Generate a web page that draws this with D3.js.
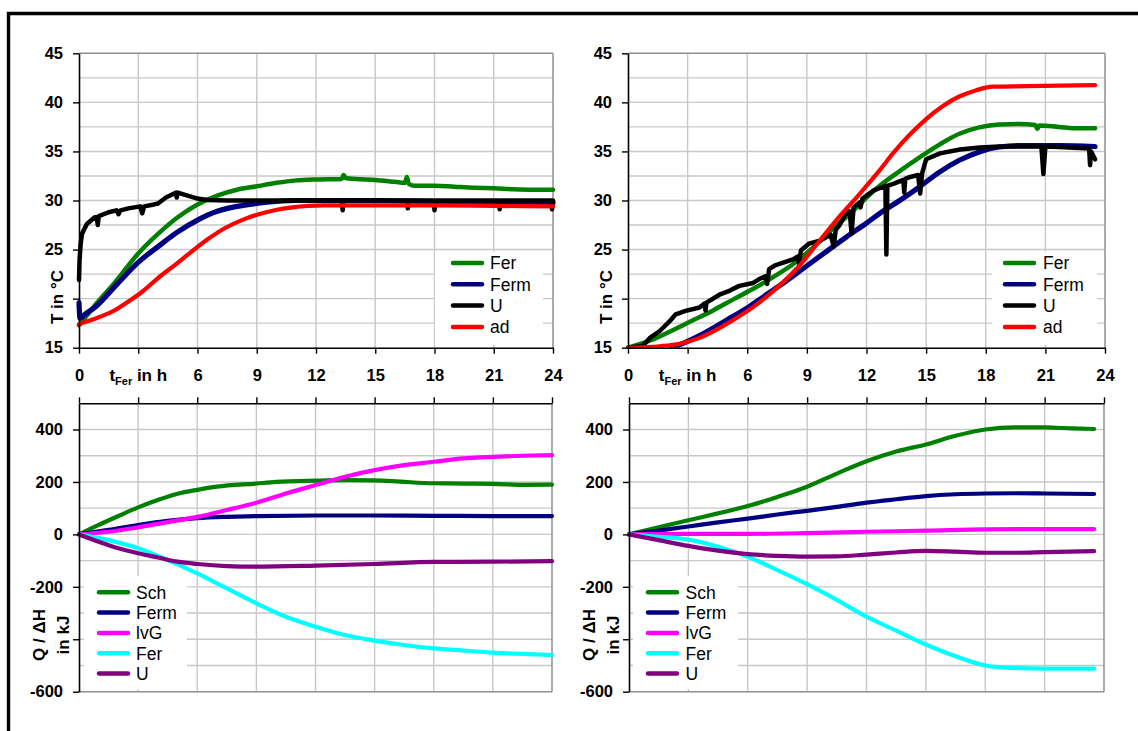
<!DOCTYPE html>
<html>
<head>
<meta charset="utf-8">
<script src="https://cdn.jsdelivr.net/npm/d3@7/dist/d3.min.js"></script>
<style>
html,body{margin:0;padding:0;background:#fff;}
svg{display:block;font-family:"Liberation Sans",Arial,Helvetica,sans-serif;}
</style>
</head>
<body>
<svg id="chart" width="1138" height="731"></svg>
<script>
// ---------- tick / category data ----------
const hourTicks = [0,3,6,9,12,15,18,21,24];
const tempTicks = [15,20,25,30,35,40,45];
const tempGrid = [17.5,20,22.5,25,27.5,30,32.5,35,37.5,40,42.5];
const energyTicks = [-600,-400,-200,0,200,400];
const energyGrid = [-500,-400,-300,-200,-100,0,100,200,300,400];
const tempNames = ["Fer","Ferm","U","ad"];
const tempColors = ["#008000","#000080","#000000","#ff0000"];
const energyNames = ["Sch","Ferm","lvG","Fer","U"];
const energyColors = ["#008000","#000080","#ff00ff","#00ffff","#800080"];

// ---------- top-left temperatures [t in h, T in °C] ----------
const tlFer = [[0,17.3],[0.4,18.3],[0.8,19.3],[1.8,21.6],[3,24.6],[4,26.6],[5,28.3],[6,29.6],[7,30.5],[8,31.1],[9,31.45],[10,31.8],[11,32.05],[12,32.15],[13.3,32.2],[13.4,32.6],[13.5,32.3],[14,32.2],[15,32.1],[16,31.9],[16.5,31.8],[16.6,32.4],[16.7,31.7],[17,31.5],[18,31.5],[19,31.4],[20,31.3],[21,31.25],[22,31.15],[23,31.1],[24,31.1]];
const tlFerm = [[0,19.6],[0.05,18.0],[0.3,18.4],[0.8,19.1],[1.8,21.2],[3,23.7],[4,25.3],[5,26.8],[6,28.0],[7,28.9],[8,29.4],[9,29.7],[10,29.9],[11,30.0],[12,30.0],[15,30.0],[18,29.9],[21,29.8],[24,29.8]];
const tlU = [[0,21.9],[0.03,24.0],[0.08,25.5],[0.15,26.6],[0.4,27.6],[0.8,28.3],[0.9,28.3],[0.95,27.5],[1.0,28.4],[1.5,28.8],[1.9,29.0],[2.0,28.6],[2.1,29.0],[2.5,29.2],[3.1,29.4],[3.2,28.7],[3.3,29.4],[3.8,29.6],[4.0,29.7],[4.4,30.3],[4.9,30.8],[4.95,30.3],[5.0,30.8],[5.5,30.5],[6.0,30.2],[6.5,30.05],[7.5,30.0],[13.3,30.0],[13.35,29.0],[13.4,30.0],[16.6,30.0],[16.65,29.2],[16.7,30.0],[17.95,30.0],[18.0,29.0],[18.05,30.0],[21.25,30.0],[21.3,29.1],[21.35,30.0],[23.9,30.0],[23.95,29.1],[24,30.0]];
const tlAd = [[0,17.4],[1,18.1],[1.8,18.8],[2.5,19.7],[3.2,20.7],[4,22.1],[4.9,23.5],[5.7,24.8],[6.55,26.1],[7.4,27.2],[8.25,28.0],[9.1,28.6],[9.9,29.0],[10.8,29.3],[11.6,29.45],[12.4,29.5],[15,29.5],[18,29.5],[21,29.45],[24,29.4]];

// ---------- top-right temperatures ----------
const trFer = [[0,15.0],[0.5,15.3],[1.26,15.85],[2.27,16.8],[3.27,17.8],[4.28,18.8],[5.28,19.9],[6.3,21.0],[7.3,22.2],[8.3,23.5],[9.3,25.2],[10.3,27.1],[11.3,28.9],[12,30.3],[12.67,31.5],[13.67,33.0],[14.67,34.4],[15.67,35.7],[16.67,36.8],[17.67,37.45],[18.67,37.75],[19.67,37.8],[20.5,37.7],[20.6,37.3],[20.7,37.65],[21.67,37.5],[22.67,37.35],[23.5,37.35]];
const trFerm = [[2.2,15.0],[2.94,15.6],[3.94,16.6],[4.95,17.8],[5.96,19.0],[6.96,20.4],[7.97,21.8],[8.97,23.3],[9.98,24.8],[11.0,26.3],[12,27.7],[12.67,28.7],[13.67,30.0],[14.67,31.4],[15.67,32.9],[16.67,34.1],[17.67,34.95],[18.67,35.45],[19.67,35.6],[21.67,35.6],[23.5,35.5]];
const trU = [[0,15.0],[0.75,15.2],[1.1,16.0],[1.6,16.7],[2.1,17.7],[2.4,18.4],[2.9,18.75],[3.6,19.1],[3.85,19.5],[3.9,18.8],[3.95,19.6],[4.6,20.4],[5.1,20.8],[5.6,21.3],[6.3,21.6],[6.6,22.0],[6.95,22.3],[7.0,21.5],[7.1,23.0],[7.4,23.4],[8.3,24.0],[8.55,24.3],[8.6,23.6],[8.7,24.9],[9.1,25.6],[9.65,25.9],[10.2,26.5],[10.35,25.3],[10.45,27.0],[10.65,27.5],[10.9,28.5],[11.15,28.9],[11.25,26.6],[11.35,29.3],[11.65,29.8],[11.7,29.3],[11.8,30.2],[12.34,31.0],[12.84,31.4],[12.95,31.5],[13.0,24.5],[13.05,31.5],[13.35,31.7],[13.85,32.1],[13.9,30.8],[13.95,32.2],[14.2,32.4],[14.6,32.6],[14.7,30.7],[14.8,32.8],[15.0,34.2],[15.7,34.8],[16.7,35.2],[17.7,35.4],[18.7,35.5],[20.8,35.5],[20.9,32.7],[21.0,35.5],[21.7,35.45],[23.2,35.3],[23.25,33.6],[23.3,35.0],[23.5,34.2]];
const trAd = [[0,15.0],[1.6,15.15],[2.6,15.4],[3.6,16.0],[4.6,17.0],[5.6,18.2],[6.6,19.6],[7.6,21.3],[8.6,23.3],[9.6,25.8],[10.7,28.5],[11.67,30.7],[12,31.5],[12.67,33.1],[13.33,34.8],[14.17,36.7],[15,38.3],[15.83,39.6],[16.67,40.6],[17.33,41.1],[18,41.5],[18.33,41.6],[20,41.65],[21.7,41.7],[23.5,41.75]];

// ---------- bottom-left energies [t in h, Q/ΔH in kJ] ----------
const blSch = [[0,0],[1,36],[2,70],[3,103],[4,131],[5,155],[6,170],[7,182],[9,194],[10,200],[12,205],[13.5,207],[15,206],[16.3,201],[18,195],[19.5,194],[21,193],[22.5,189],[24,190]];
const blFerm = [[0,0],[1.5,17],[3,36],[4.5,52],[6,62],[7.5,67],[9,70],[12,72],[15,72],[18,71],[21,70],[24,70]];
const blLvG = [[0,0],[1.5,10],[3,27],[4.5,47],[6,67],[7.5,93],[9,121],[10.5,156],[12,188],[13.5,220],[15,245],[16.5,264],[18,277],[19.5,290],[21,296],[22.5,300],[24,302]];
const blFer = [[0,0],[1.5,-22],[3,-53],[4.5,-98],[6,-149],[7.5,-206],[9,-263],[10.5,-314],[12,-352],[13.5,-384],[15,-405],[16.5,-422],[18,-435],[19.5,-443],[21,-451],[22.5,-456],[24,-460]];
const blU = [[0,0],[1,-28],[2,-53],[3,-72],[4,-88],[5,-104],[6,-113],[7.5,-121],[9,-123],[12,-119],[15,-113],[18,-105],[21,-104],[24,-102]];

// ---------- bottom-right energies ----------
const brSch = [[0,0],[1.5,27],[3,54],[4.5,80],[6,108],[7.5,143],[9,182],[10.5,232],[12,279],[13.5,316],[15,343],[16.5,376],[18,400],[19.5,408],[21,408],[22.4,404],[23.5,402]];
const brFerm = [[0,0],[1.5,15],[3,30],[4.5,46],[6,60],[7.5,76],[9,90],[10.5,105],[12,121],[13.5,134],[15,146],[16.5,153],[18,156],[19.5,157],[21,156],[23.5,154]];
const brLvG = [[0,0],[3,2],[6,2],[9,5],[12,10],[15,14],[18,19],[21,20],[23.5,20]];
const brFer = [[0,0],[1.5,-9],[3,-20],[4.5,-47],[6,-85],[7.5,-136],[9,-190],[10.5,-250],[12,-314],[13.5,-367],[15,-420],[16.5,-465],[18,-500],[19.5,-510],[21,-512],[23.5,-512]];
const brU = [[0,0],[1.5,-22],[3,-44],[4.5,-62],[6,-75],[7.5,-82],[9,-85],[10.5,-84],[12,-77],[13.5,-69],[15,-63],[16.5,-66],[18,-70],[19.5,-70],[21,-68],[23.5,-64]];

// ---------- drawing ----------
const svg = d3.select("#chart");
const GRID = "#c8c8c8", BORDER = "#8f8f8f";

// outer frame
svg.append("path").attr("d","M8.5,731 V13.5 H1138").attr("fill","none").attr("stroke","#000").attr("stroke-width",3.4);

let clipId = 0;
function drawPanel(p){
  const g = svg.append("g");
  const x = d3.scaleLinear().domain([0,24]).range([p.left,p.right]);
  const y = d3.scaleLinear().domain(p.yDomain).range([p.bottom,p.top]);

  // gridlines
  g.append("g").selectAll("line").data(p.yGrid).join("line")
    .attr("x1",p.left).attr("x2",p.right).attr("y1",d=>y(d)).attr("y2",d=>y(d))
    .attr("stroke",GRID).attr("stroke-width",1.4);
  g.append("g").selectAll("line").data(hourTicks.slice(1,-1)).join("line")
    .attr("x1",d=>x(d)).attr("x2",d=>x(d)).attr("y1",p.top).attr("y2",p.bottom)
    .attr("stroke",GRID).attr("stroke-width",1.4);
  // gray border
  const yb = p.kind==="temp" ? y(p.yDomain[1]) : y(p.yDomain[0]);
  g.append("line").attr("x1",p.left).attr("x2",p.right).attr("y1",yb).attr("y2",yb).attr("stroke",BORDER).attr("stroke-width",1.5);
  g.append("line").attr("x1",x(24)).attr("x2",x(24)).attr("y1",p.top).attr("y2",p.bottom).attr("stroke",BORDER).attr("stroke-width",1.5);

  // legend box
  const L = p.legend;
  g.append("rect").attr("x",L.x0).attr("y",L.y0).attr("width",L.x1-L.x0).attr("height",L.y1-L.y0).attr("fill","#fff");

  // series
  const id = "clip"+(clipId++);
  svg.append("clipPath").attr("id",id).append("rect")
    .attr("x",p.left-3).attr("y",p.top-3).attr("width",p.right-p.left+6).attr("height",p.bottom-p.top+3);
  const sg = g.append("g").attr("clip-path","url(#"+id+")");
  p.series.forEach((s,i)=>{
    const line = d3.line().x(d=>x(d[0])).y(d=>y(d[1])).curve(p.jagged[i] ? d3.curveLinear : d3.curveMonotoneX);
    sg.append("path").datum(s).attr("d",line).attr("fill","none")
      .attr("stroke",p.colors[i]).attr("stroke-width",p.widths[i])
      .attr("stroke-linejoin","round").attr("stroke-linecap","round");
  });

  // legend entries
  const lg = g.append("g");
  p.names.forEach((n,i)=>{
    const yy = L.rowY + i*L.step;
    lg.append("line").attr("x1",L.lx0).attr("x2",L.lx1).attr("y1",yy).attr("y2",yy)
      .attr("stroke",p.colors[i]).attr("stroke-width",4.5).attr("stroke-linecap","round");
    lg.append("text").attr("x",L.tx).attr("y",yy).attr("dy","0.36em")
      .attr("font-size",17.5).attr("fill","#000").text(n);
  });

  // axes
  const ya = d3.axisLeft(y).tickValues(p.yTicks).tickSize(6).tickSizeOuter(0).tickPadding(10)
    .tickFormat(d => String(d));
  const yAx = g.append("g").attr("transform",`translate(${p.left},0)`).call(ya);
  let xAx;
  if(p.kind==="temp"){
    const xa = d3.axisBottom(x).tickValues(hourTicks).tickSize(6).tickSizeOuter(0).tickPadding(15.5)
      .tickFormat(d=> d===3 ? "" : String(d));
    xAx = g.append("g").attr("transform",`translate(0,${p.bottom})`).call(xa);
  } else {
    const xa = d3.axisTop(x).tickValues(hourTicks).tickSize(6).tickSizeOuter(0).tickFormat("");
    xAx = g.append("g").attr("transform",`translate(0,${p.top})`).call(xa);
  }
  [yAx,xAx].forEach(a=>{
    a.select(".domain").attr("stroke","#000").attr("stroke-width",1.6);
    a.selectAll(".tick line").attr("stroke","#000").attr("stroke-width",1.4);
    a.selectAll("text").attr("font-size",16.5).attr("font-weight","bold").attr("fill","#000")
      .attr("font-family",'"Liberation Sans",Arial,sans-serif');
  });

  // titles
  if(p.kind==="temp"){
    const cx = p.left-22, cy = 297;
    g.append("rect").attr("x",cx-15).attr("y",cy-34).attr("width",26).attr("height",68).attr("fill","#fff");
    g.append("text").attr("transform",`translate(${cx},${cy}) rotate(-90)`)
      .attr("text-anchor","middle").attr("dy","0.36em").attr("font-size",17).attr("font-weight","bold").text("T in °C");
    const tt = g.append("text").attr("x",x(3)).attr("y",p.bottom+33.5)
      .attr("text-anchor","middle").attr("font-size",17).attr("font-weight","bold");
    tt.append("tspan").text("t");
    tt.append("tspan").attr("font-size",11).attr("dy",4).text("Fer");
    tt.append("tspan").attr("dy",-4).text(" in h");
  } else {
    const cy = 635;
    g.append("rect").attr("x",p.left-52).attr("y",cy-37).attr("width",45).attr("height",74).attr("fill","#fff");
    g.append("text").attr("transform",`translate(${p.left-40},${cy}) rotate(-90)`)
      .attr("text-anchor","middle").attr("dy","0.36em").attr("font-size",17).attr("font-weight","bold").text("Q / ΔH");
    g.append("text").attr("transform",`translate(${p.left-16.5},${cy}) rotate(-90)`)
      .attr("text-anchor","middle").attr("dy","0.36em").attr("font-size",17).attr("font-weight","bold").text("in kJ");
  }
}

const tempW = [4.5,5.2,4.5,4.2];
const enW = [4.2,4.2,4.2,4.2,4.2];

drawPanel({kind:"temp",left:79,right:553,top:53.3,bottom:347.7,yDomain:[15,45],yTicks:tempTicks,yGrid:tempGrid,
  series:[tlFer,tlFerm,tlU,tlAd],names:tempNames,colors:tempColors,widths:tempW,jagged:[false,false,true,false],
  legend:{x0:435,x1:543,y0:252,y1:345,lx0:453,lx1:482,tx:490,rowY:263,step:21.3}});
drawPanel({kind:"temp",left:628,right:1105,top:53.3,bottom:347.7,yDomain:[15,45],yTicks:tempTicks,yGrid:tempGrid,
  series:[trFer,trFerm,trU,trAd],names:tempNames,colors:tempColors,widths:tempW,jagged:[false,false,true,false],
  legend:{x0:992,x1:1097,y0:252,y1:345,lx0:1005,lx1:1034,tx:1043,rowY:263,step:21.3}});
drawPanel({kind:"energy",left:79,right:552,top:403.3,bottom:691.7,yDomain:[-600,500],yTicks:energyTicks,yGrid:energyGrid,
  series:[blSch,blFerm,blLvG,blFer,blU],names:energyNames,colors:energyColors,widths:enW,jagged:[false,false,false,false,false],
  legend:{x0:84,x1:187,y0:576,y1:689,lx0:99,lx1:128,tx:136,rowY:592.3,step:20.3}});
drawPanel({kind:"energy",left:629,right:1104,top:403.3,bottom:691.7,yDomain:[-600,500],yTicks:energyTicks,yGrid:energyGrid,
  series:[brSch,brFerm,brLvG,brFer,brU],names:energyNames,colors:energyColors,widths:enW,jagged:[false,false,false,false,false],
  legend:{x0:633,x1:738,y0:576,y1:689,lx0:648,lx1:677,tx:685.5,rowY:592.3,step:20.3}});
</script>
</body>
</html>
